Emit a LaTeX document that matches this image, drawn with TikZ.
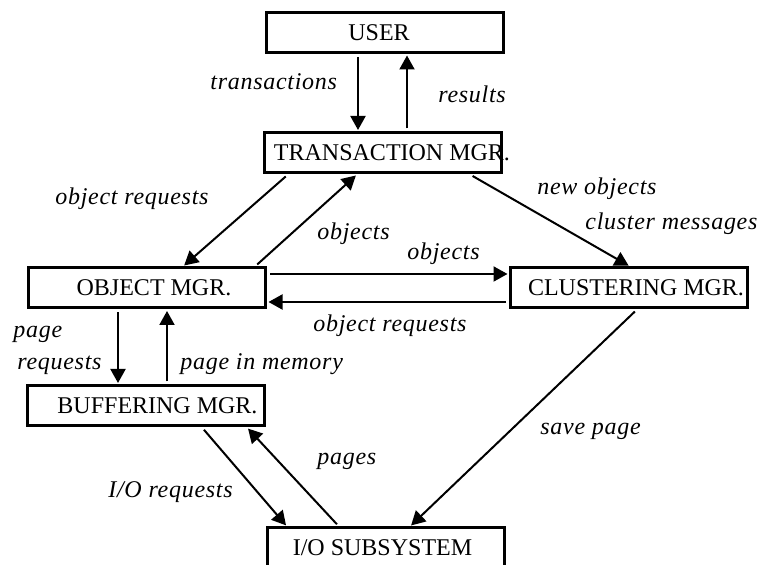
\documentclass[tikz,border=0pt]{standalone}
\usepackage{fontspec}
\setmainfont{Liberation Serif}
\newfontfamily\labelfont{Liberation Serif}[LetterSpace=3]
\usepackage{tikz}
\usetikzlibrary{arrows.meta}
\tikzset{
    mgr-box/.style = {draw, line width=1.5pt, rectangle, minimum width=118.5pt, minimum height=20pt, inner sep=0pt, font=\fontsize{12}{14}\selectfont},
    flow-label/.style = {anchor=base west, inner sep=0pt, font=\labelfont\itshape\fontsize{12}{14}\selectfont},
    flow/.style = {line width=1pt, -{Triangle[length=7pt, width=7.5pt]}, shorten <=1.5pt, shorten >=0.75pt},
}

\begin{document}
\begin{tikzpicture}[x=0.5pt, y=-0.5pt]
\useasboundingbox (0,0) rectangle (760,565);
\clip (0,0) rectangle (760,565);

% the managers
\node [mgr-box] (user) at (385,32.5) {\makebox[0pt]{\hspace{-6pt}USER}};
\node [mgr-box] (trans) at (382.5,153) {\makebox[0pt]{\hspace{9.5pt}TRANSACTION MGR.}};
\node [mgr-box] (objmgr) at (147,288) {\makebox[0pt]{\hspace{7pt}OBJECT MGR.}};
\node [mgr-box] (clust) at (629,288) {\makebox[0pt]{\hspace{7pt}CLUSTERING MGR.}};
\node [mgr-box] (buff) at (146,406) {\makebox[0pt]{\hspace{11.5pt}BUFFERING MGR.}};
\node [mgr-box] (io) at (385.5,548) {\makebox[0pt]{\hspace{-3pt}I/O SUBSYSTEM}};

% user <-> transactions
\draw [flow] ([xshift=-13.5pt]user.south) -- ([xshift=-12.25pt]trans.north);
\draw [flow] ([xshift=12.25pt]trans.north) -- ([xshift=11pt]user.south);
\node [flow-label] at (210,90) {transactions};
\node [flow-label] at (438,103) {results};

% transactions <-> objects
\draw [flow] ([xshift=-47.25pt]trans.south) -- ([xshift=18pt]objmgr.north);
\draw [flow] ([xshift=54pt]objmgr.north) -- ([xshift=-12.75pt]trans.south);
\node [flow-label] at (55,205) {object requests};
\node [flow-label] at (317,240) {objects};

% transactions -> clustering
\draw [flow] ([xshift=43.75pt]trans.south) -- ([xshift=0.5pt]clust.north);
\node [flow-label] at (537,195) {new objects};
\node [flow-label] at (585,230) {cluster messages};

% objects <-> clustering
\draw [flow] ([yshift=7pt]objmgr.east) -- ([yshift=7pt]clust.west);
\draw [flow] ([yshift=-7pt]clust.west) -- ([yshift=-7pt]objmgr.east);
\node [flow-label] at (407,260) {objects};
\node [flow-label] at (313,332) {object requests};

% objects <-> buffering
\draw [flow] ([xshift=-14.5pt]objmgr.south) -- ([xshift=-14pt]buff.north);
\draw [flow] ([xshift=10.5pt]buff.north) -- ([xshift=10pt]objmgr.south);
\node [flow-label] at (13,338) {page};
\node [flow-label] at (17,370) {requests};
\node [flow-label] at (180,370) {page in memory};

% down to the disk
\draw [flow] ([xshift=28pt]buff.south) -- ([xshift=-49.25pt]io.north);
\draw [flow] ([xshift=-23.25pt]io.north) -- ([xshift=50.5pt]buff.south);
\draw [flow] ([xshift=4pt]clust.south) -- ([xshift=12.25pt]io.north);
\node [flow-label] at (108,498) {I/O requests};
\node [flow-label] at (317,465) {pages};
\node [flow-label] at (540,435) {save page};
\end{tikzpicture}
\end{document}
